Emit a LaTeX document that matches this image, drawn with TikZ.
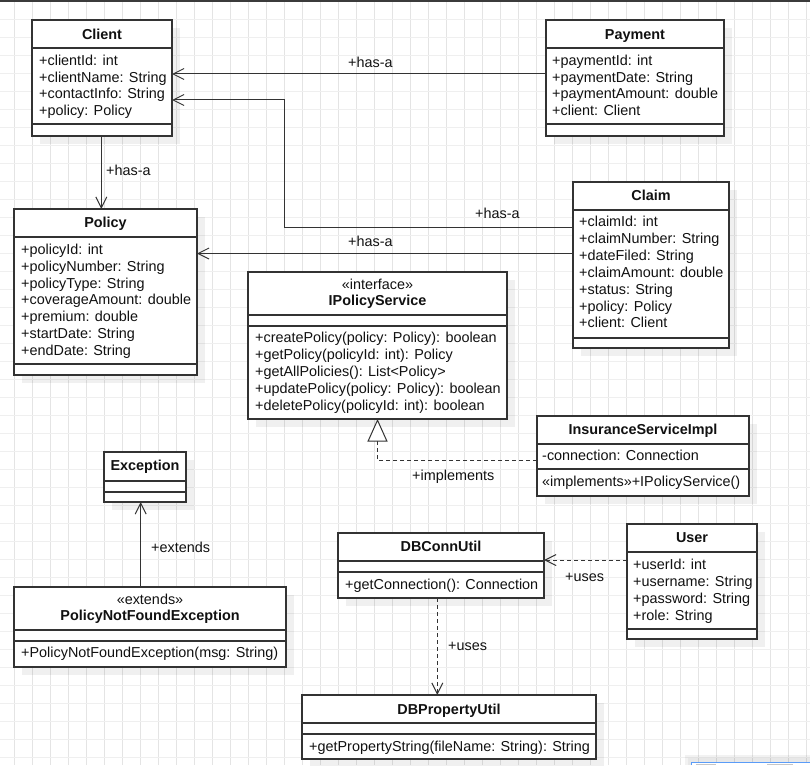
\documentclass[tikz,border=0pt]{standalone}
\usepackage{fontspec}
\setmainfont{Liberation Sans}
\usetikzlibrary{arrows.meta}

\definecolor{ink}{HTML}{111111}
\definecolor{edge}{HTML}{333333}
\definecolor{gridv}{HTML}{E4E4E4}
\definecolor{gridh}{HTML}{EFEFEF}
\definecolor{topbar}{HTML}{3B3B3B}
\definecolor{selblue}{HTML}{5A9CF8}

\tikzset{
  classbox/.style={draw=edge, fill=white, line width=1.2pt, inner sep=0pt, outer sep=0pt, anchor=north west},
  sepline/.style={draw=edge, line width=1.2pt},
  dropshade/.style={fill=black, fill opacity=0.06},
  rowtext/.style={anchor=west, inner sep=0pt, text=ink, text height=10.3pt, text depth=0pt,
                  font=\fontsize{14.4}{16.8}\selectfont},
  titletext/.style={rowtext, anchor=center, font=\fontsize{14.4}{16.8}\selectfont\bfseries},
  stereotext/.style={rowtext, anchor=center},
  assoc/.style={draw=edge, line width=1pt, -{Straight Barb[length=11pt,width=11pt]}},
  dep/.style={assoc, dash pattern=on 4pt off 3pt},
  realize/.style={draw=edge, line width=1pt, dash pattern=on 4pt off 3pt,
                  -{Triangle[length=22.5pt,width=20pt,fill=white]}},
}

% class box: name, x1, y1, x2, y2, header separator y, attribute separator y
\newcommand{\umlclass}[7]{%
  \fill[dropshade] (#2+8,#3+8) rectangle (#4+8,#5+8);
  \node[classbox, minimum width={#4-#2}, minimum height={#5-#3}] (#1) at (#2,#3) {};
  \draw[sepline] (#2,#6) -- (#4,#6);
  \draw[sepline] (#2,#7) -- (#4,#7);
}
% compartment rows: name prefix, x, first row y, row step, list of rows
\newcommand{\classrows}[5]{%
  \foreach \txt [count=\k from 0] in {#5}
    \node[rowtext] (#1-\k) at (#2, #3+\k*#4) {\txt};
}

\begin{document}
\begin{tikzpicture}[x=1pt,y=-1pt]
\useasboundingbox (0,0) rectangle (810,765);
\fill[white] (0,0) rectangle (810,765);

% background grid
\foreach \gx in {0,...,44}
  \draw[gridv, line width=1pt] (14.3+18*\gx,0) -- (14.3+18*\gx,765);
\foreach \gy in {0,...,42}
  \draw[gridh, line width=1pt] (0,1.7+18*\gy) -- (810,1.7+18*\gy);
\fill[topbar] (0,0) rectangle (810,2);

% ---- classes ----
\umlclass{client}{32}{20}{172}{136}{48}{124}
\node[titletext] (client-title) at (client.north |- 0,34) {Client};
\classrows{client}{39}{60}{16.9}{+clientId: int, +clientName: String, +contactInfo: String, +policy: Policy}

\umlclass{payment}{546}{20}{724}{136}{48}{124}
\node[titletext] (payment-title) at (payment.north |- 0,34) {Payment};
\classrows{payment}{552}{60}{16.9}{+paymentId: int, +paymentDate: String, +paymentAmount: double, +client: Client}

\umlclass{claim}{573}{182}{729}{348}{210}{338}
\node[titletext] (claim-title) at (claim.north |- 0,195.7) {Claim};
\classrows{claim}{579}{221.7}{16.83}{+claimId: int, +claimNumber: String, +dateFiled: String, +claimAmount: double, +status: String, +policy: Policy, +client: Client}

\umlclass{policy}{14}{209}{197}{375}{237}{364}
\node[titletext] (policy-title) at (policy.north |- 0,222.7) {Policy};
\classrows{policy}{21}{249.3}{16.8}{+policyId: int, +policyNumber: String, +policyType: String, +coverageAmount: double, +premium: double, +startDate: String, +endDate: String}

\umlclass{ipolicy}{248}{272}{507}{419}{315}{326}
\node[stereotext] (ipolicy-stereo) at (ipolicy.north |- 0,284) {«interface»};
\node[titletext] (ipolicy-title) at (ipolicy.north |- 0,300.7) {IPolicyService};
\classrows{ipolicy}{255}{337.7}{16.85}{+createPolicy(policy: Policy): boolean, +getPolicy(policyId: int): Policy, +getAllPolicies(): List<Policy>, +updatePolicy(policy: Policy): boolean, +deletePolicy(policyId: int): boolean}

\umlclass{impl}{537}{416}{749}{496}{444}{469}
\node[titletext] (impl-title) at (impl.north |- 0,429.3) {InsuranceServiceImpl};
\node[rowtext] (impl-attr) at (542,455.7) {-connection: Connection};
\node[rowtext] (impl-op) at (542,481.7) {«implements»+IPolicyService()};

\umlclass{exception}{104}{452}{186}{502}{481}{492}
\node[titletext] (exception-title) at (exception.north |- 0,465.7) {Exception};

\umlclass{pnfe}{14}{587}{286}{667}{630}{641}
\node[stereotext] (pnfe-stereo) at (pnfe.north |- 0,599.3) {«extends»};
\node[titletext] (pnfe-title) at (pnfe.north |- 0,615.7) {PolicyNotFoundException};
\node[rowtext] (pnfe-op) at (21,652.7) {+PolicyNotFoundException(msg: String)};

\umlclass{dbconn}{338}{533}{544}{598}{561}{572}
\node[titletext] (dbconn-title) at (dbconn.north |- 0,546.7) {DBConnUtil};
\node[rowtext] (dbconn-op) at (345,584) {+getConnection(): Connection};

\umlclass{user}{627}{524}{757}{639}{552}{629}
\node[titletext] (user-title) at (user.north |- 0,537.7) {User};
\classrows{user}{633}{564}{17}{+userId: int, +username: String, +password: String, +role: String}

\umlclass{dbprop}{302}{695}{596}{759}{723}{734}
\node[titletext] (dbprop-title) at (dbprop.north |- 0,709) {DBPropertyUtil};
\node[rowtext] (dbprop-op) at (309,746) {+getPropertyString(fileName: String): String};

% ---- relations ----
\coordinate (bendA) at (284.3,100);
\draw[assoc] (payment.west |- 0,74) -- (client.east |- 0,74);
\draw[assoc] (claim.west |- 0,227) -| (bendA) -- (client.east |- bendA);
\draw[assoc] (claim.west |- 0,253.5) -- (policy.east |- 0,253.5);
\draw[assoc] (client.south -| 101.3,0) -- (policy.north -| 101.3,0);
\draw[assoc] (pnfe.north -| 140.7,0) -- (exception.south -| 140.7,0);
\draw[realize] (impl.west |- 0,460.7) -| (ipolicy.south);
\draw[dep] (user.west |- 0,560) -- (dbconn.east |- 0,560);
\draw[dep] (dbconn.south -| 437.3,0) -- (dbprop.north -| 437.3,0);

% relation labels
\node[rowtext] (lbl-pay) at (348,62) {+has-a};
\node[rowtext] (lbl-pol) at (106,170) {+has-a};
\node[rowtext] (lbl-claim1) at (475,213) {+has-a};
\node[rowtext] (lbl-claim2) at (348,241) {+has-a};
\node[rowtext] (lbl-impl) at (412,475) {+implements};
\node[rowtext] (lbl-ext) at (151,547) {+extends};
\node[rowtext] (lbl-use1) at (565,576) {+uses};
\node[rowtext] (lbl-use2) at (448,645) {+uses};

% panel edge in the lower right corner
\fill[black, opacity=0.05] (685,755) rectangle (810,765);
\fill[black, opacity=0.04] (688,758) rectangle (810,765);
\fill[white] (691.7,762.3) rectangle (810,765);
\draw[selblue, line width=1pt] (691.7,765) -- (691.7,762.3) -- (810,762.3);
\fill[gray!45] (696,763.6) rectangle (716,765);
\fill[gray!45] (767,763.6) rectangle (793,765);
\end{tikzpicture}
\end{document}
